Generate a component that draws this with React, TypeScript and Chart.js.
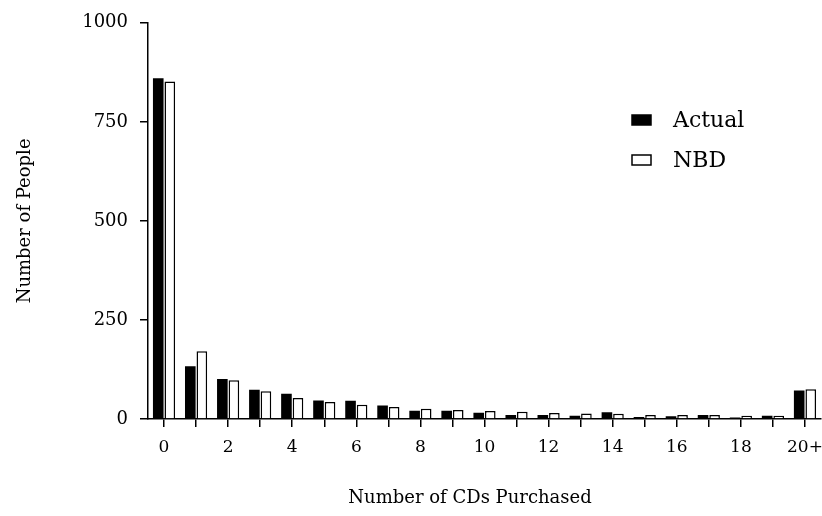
import React, { useEffect, useRef } from "react";
import { Chart, registerables } from "chart.js";

Chart.register(...registerables);

const categories = ["0","1","2","3","4","5","6","7","8","9","10","11","12","13","14","15","16","17","18","19","20+"];
const actualValues = [860, 133, 101, 74, 64, 47, 46, 34, 21, 21, 16, 10, 10, 8, 17, 5, 7, 10, 4, 8, 72];
const nbdValues = [852, 171, 98, 70, 53, 43, 36, 30, 26, 23, 20, 18, 15, 14, 13, 10, 10, 10, 8, 8, 75];
const yTicks = [0, 250, 500, 750, 1000];
const seriesNames = ["Actual", "NBD"];
const xTitle = "Number of CDs Purchased";
const yTitle = "Number of People";

const FONT = "'DejaVu Serif', serif";

const overlayPlugin = {
  id: "overlay",
  afterDraw(chart: any) {
    const ctx = chart.ctx;
    const area = chart.chartArea;
    ctx.save();
    ctx.fillStyle = "#000";
    ctx.font = `18px ${FONT}`;
    ctx.textAlign = "center";
    ctx.textBaseline = "middle";
    ctx.fillText(xTitle, 470, 498);
    ctx.save();
    ctx.translate(25, (area.top + area.bottom) / 2);
    ctx.rotate(-Math.PI / 2);
    ctx.fillText(yTitle, 0, 0);
    ctx.restore();
    // legend
    ctx.font = `22px ${FONT}`;
    ctx.textAlign = "left";
    const items = chart.data.datasets;
    const ys = [120, 160];
    items.forEach((ds: any, i: number) => {
      const y = ys[i];
      ctx.fillStyle = ds.backgroundColor;
      ctx.fillRect(632, y - 5, 19, 10);
      ctx.strokeStyle = "#000";
      ctx.lineWidth = 1.5;
      ctx.strokeRect(632, y - 5, 19, 10);
      ctx.fillStyle = "#000";
      ctx.fillText(ds.label, 673, y + 1);
    });
    ctx.restore();
  },
};

export default function App() {
  const ref = useRef<HTMLCanvasElement | null>(null);
  useEffect(() => {
    if (!ref.current) return;
    const chart = new Chart(ref.current, {
      type: "bar",
      data: {
        labels: categories,
        datasets: [
          {
            label: seriesNames[0],
            data: actualValues,
            backgroundColor: "#000",
            borderColor: "#000",
            borderWidth: 0,
            categoryPercentage: 0.72,
            barPercentage: 0.92,
          },
          {
            label: seriesNames[1],
            data: nbdValues,
            backgroundColor: "#fff",
            borderColor: "#000",
            borderWidth: 1.5,
            categoryPercentage: 0.72,
            barPercentage: 0.92,
          },
        ],
      },
      options: {
        animation: false,
        responsive: false,
        maintainAspectRatio: false,
        layout: { padding: { top: 20, right: 1, left: 0, bottom: 0 } },
        plugins: {
          legend: { display: false },
          tooltip: { enabled: false },
        },
        scales: {
          x: {
            offset: true,
            grid: {
              offset: false,
              drawOnChartArea: false,
              drawTicks: true,
              tickLength: 8,
              color: "#000",
              lineWidth: 1.5,
            },
            border: { display: true, color: "#000", width: 1.5 },
            ticks: {
              autoSkip: false,
              maxRotation: 0,
              color: "#000",
              padding: 10,
              font: { family: FONT, size: 17 },
              callback: (_v: any, i: number) => (i % 2 === 0 ? categories[i] : ""),
            },
            afterFit: (s: any) => {
              s.height = 97;
              s.paddingRight = 0;
              s.paddingLeft = 0;
            },
          },
          y: {
            min: 0,
            max: 1000,
            afterBuildTicks: (s: any) => {
              s.ticks = yTicks.map((v) => ({ value: v }));
            },
            grid: {
              drawOnChartArea: false,
              drawTicks: true,
              tickLength: 8,
              color: "#000",
              lineWidth: 1.5,
            },
            border: { display: true, color: "#000", width: 1.5 },
            ticks: {
              color: "#000",
              padding: 12,
              font: { family: FONT, size: 18 },
              callback: (v: any) => String(v),
            },
            afterFit: (s: any) => {
              s.width = 148;
            },
          },
        },
      },
      plugins: [overlayPlugin],
    });
    return () => chart.destroy();
  }, []);
  return (
    <div style={{ position: "fixed", left: 0, top: 0, width: 822, height: 516, background: "#fff" }}>
      <canvas ref={ref} width={822} height={516} style={{ width: 822, height: 516 }} />
    </div>
  );
}
